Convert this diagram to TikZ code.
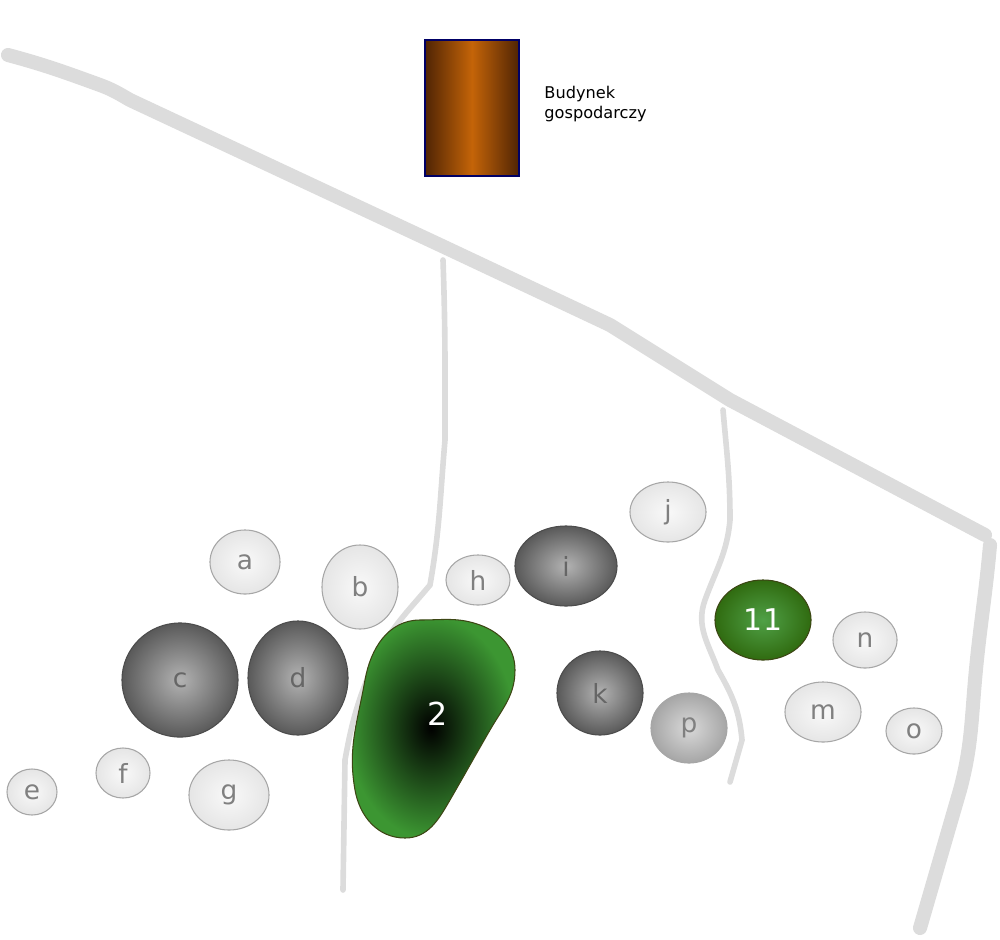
\documentclass[tikz,border=0pt]{standalone}
\usepackage{fontspec}
\setsansfont{DejaVu Sans}
\usetikzlibrary{shapes.geometric}
\definecolor{roadgray}{RGB}{220,220,220}
\definecolor{wood1}{RGB}{80,36,4}
\definecolor{wood2}{RGB}{196,100,8}
\definecolor{leaf1}{RGB}{60,70,20}
\definecolor{leaf2}{RGB}{60,150,50}

\tikzset{
  stone/.style={ellipse, inner sep=0pt, draw=gray!70, line width=0.3pt,
    inner color=gray!5, outer color=gray!20, text=gray,
    font=\sffamily\fontsize{7.5}{8}\selectfont},
  rock/.style={ellipse, inner sep=0pt, draw=black!70, line width=0.3pt,
    inner color=gray!60, outer color=black!65, text=black!60,
    font=\sffamily\fontsize{7.5}{8}\selectfont},
  mainroad/.style={draw=roadgray, line width=4pt, line cap=round, line join=round},
  trail/.style={draw=roadgray, line width=1.6pt, line cap=round}
}

\begin{document}
\begin{tikzpicture}[x=0.01cm, y=-0.01cm]
  \useasboundingbox (0,0) rectangle (1000,939);
  % roads
  \draw[mainroad] (8,55) to[out=-15,in=160] (100,85) to[out=-20,in=150] (130,100)
    -- (440,245) -- (610,325) -- (730,400) -- (900,490) -- (985,535);
  \draw[mainroad] (990,545) to[out=-95,in=85] (975,680) to[out=-95,in=75] (960,790) -- (920,928);
  \draw[trail] (443,260) to[out=-88,in=90] (445,440) to[out=-95,in=80] (430,585)
    to[out=-130,in=60] (380,650) to[out=-115,in=80] (345,760) -- (343,890);
  \draw[trail] (723,410) to[out=-85,in=90] (730,520) to[out=-95,in=70] (705,600)
    to[out=-110,in=110] (718,670) to[out=-60,in=95] (742,740) -- (730,782);
  % building
  \shade[left color=wood1, right color=wood1, middle color=wood2, shading angle=90]
    (425,40) rectangle (519,176);
  \draw[blue!40!black, line width=0.3pt] (425,40) rectangle (519,176);
  \node[anchor=west, align=left, font=\sffamily\fontsize{4.6}{5.5}\selectfont] (bud) at (532,104) {Budynek\\gospodarczy};
  % big pond
  \shade[inner color=black, outer color=leaf2, draw=leaf1, line width=0.3pt]
    (420,620) to[out=0,in=160] (480,625) to[out=-20,in=90] (515,670)
    to[out=-90,in=60] (490,730) to[out=-120,in=60] (450,800)
    to[out=-120,in=0] (405,838) to[out=180,in=-80] (355,790)
    to[out=100,in=-100] (365,680) to[out=80,in=180] (420,620) -- cycle;
  \node[text=white, font=\sffamily\fontsize{9}{10}\selectfont] (n2) at (438,714) {2};
  % stones
  \node[stone, minimum width=7mm, minimum height=6.4mm] (a) at (245,562) {a};
  \node[stone, minimum width=7.6mm, minimum height=8.4mm] (b) at (360,587) {b};
  \node[stone, minimum width=6.4mm, minimum height=5mm] (h) at (478,580) {h};
  \node[stone, minimum width=7.6mm, minimum height=6mm] (j) at (668,512) {j};
  \node[stone, minimum width=6.4mm, minimum height=5.6mm] (n) at (865,640) {n};
  \node[stone, minimum width=7.6mm, minimum height=6mm] (m) at (823,712) {m};
  \node[stone, minimum width=5.6mm, minimum height=4.6mm] (o) at (914,731) {o};
  \node[stone, minimum width=5mm, minimum height=4.6mm] (e) at (32,792) {e};
  \node[stone, minimum width=5.4mm, minimum height=5mm] (f) at (123,773) {f};
  \node[stone, minimum width=8mm, minimum height=7mm] (g) at (229,795) {g};
  \node[stone, inner color=gray!30, outer color=gray!70, minimum width=7.6mm, minimum height=7mm] (p) at (689,728) {p};
  \node[rock, minimum width=11.6mm, minimum height=11.4mm] (c) at (180,680) {c};
  \node[rock, minimum width=10mm, minimum height=11.4mm] (d) at (298,678) {d};
  \node[rock, minimum width=10.2mm, minimum height=8mm] (i) at (566,566) {i};
  \node[rock, minimum width=8.6mm, minimum height=8.4mm] (k) at (600,693) {k};
  \node[ellipse, inner sep=0pt, draw=leaf1, line width=0.3pt, inner color=leaf2!90!white,
    outer color=leaf1!80!green, text=white, font=\sffamily\fontsize{8.5}{9}\selectfont,
    minimum width=9.6mm, minimum height=8mm] (n11) at (763,620) {11};
\end{tikzpicture}
\end{document}
